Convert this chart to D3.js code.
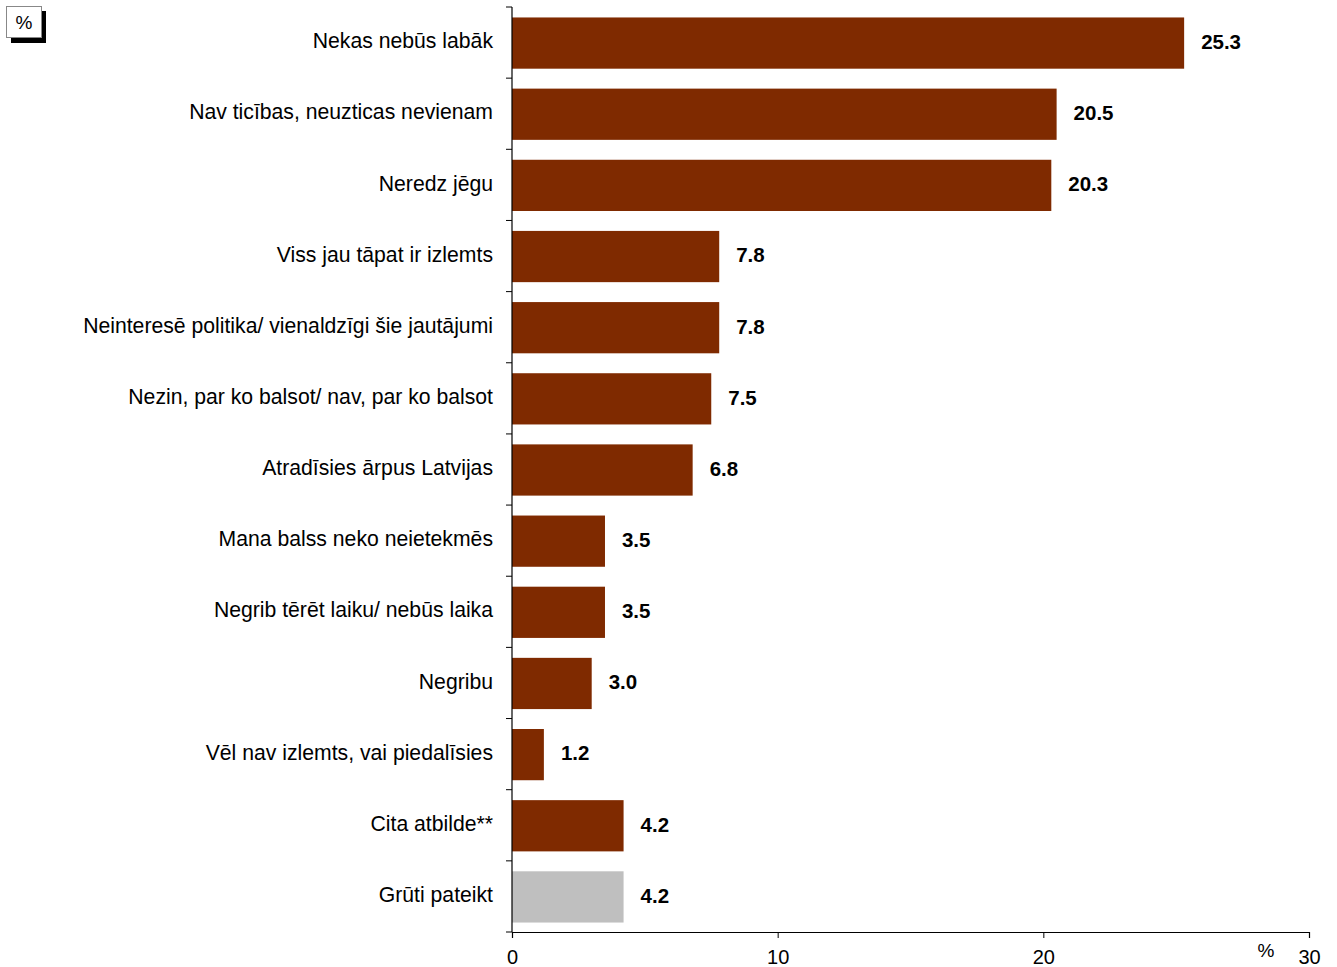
<!DOCTYPE html>
<html><head><meta charset="utf-8">
<script src="https://cdn.jsdelivr.net/npm/d3@7"></script>
<style>body{margin:0;background:#fff;} text{font-family:Arial,"Liberation Sans",sans-serif;}</style>
</head><body>
<svg id="c" width="1337" height="967"></svg>
<script>
const categories = ["Nekas nebūs labāk","Nav ticības, neuzticas nevienam","Neredz jēgu","Viss jau tāpat ir izlemts","Neinteresē politika/ vienaldzīgi šie jautājumi","Nezin, par ko balsot/ nav, par ko balsot","Atradīsies ārpus Latvijas","Mana balss neko neietekmēs","Negrib tērēt laiku/ nebūs laika","Negribu","Vēl nav izlemts, vai piedalīsies","Cita atbilde**","Grūti pateikt"];
const values = [25.3,20.5,20.3,7.8,7.8,7.5,6.8,3.5,3.5,3.0,1.2,4.2,4.2];
const barColors = ["#7f2a00","#7f2a00","#7f2a00","#7f2a00","#7f2a00","#7f2a00","#7f2a00","#7f2a00","#7f2a00","#7f2a00","#7f2a00","#7f2a00","#bfbfbf"];
const xTicks = [0,10,20,30];

const svg = d3.select("#c");
const x = d3.scaleLinear().domain([0,30]).range([512,1309]);
const y = d3.scaleBand().domain(categories).range([7,932]).paddingInner(0.28).paddingOuter(0.14);

svg.selectAll("rect.bar").data(values).enter().append("rect")
  .attr("x", x(0)).attr("y",(d,i)=>y(categories[i])+0.5)
  .attr("width", d=>x(d)-x(0)).attr("height", y.bandwidth())
  .attr("fill",(d,i)=>barColors[i]);

svg.selectAll("text.val").data(values).enter().append("text")
  .attr("x", d=>x(d)+17).attr("y",(d,i)=>y(categories[i])+y.bandwidth()/2-1)
  .attr("dy","0.36em").attr("font-size",20.5).attr("font-weight","bold")
  .text(d=>d.toFixed(1));

svg.selectAll("text.cat").data(categories).enter().append("text")
  .attr("x", 493).attr("y", d=>y(d)+y.bandwidth()/2-2)
  .attr("dy","0.36em").attr("text-anchor","end").attr("font-size",21.2)
  .text(d=>d);

const step = (932-7)/categories.length;
const bounds = d3.range(categories.length+1).map(i=>7+i*step);
svg.append("line").attr("x1",512).attr("x2",512).attr("y1",7).attr("y2",932).attr("stroke","#000").attr("stroke-width",1.2);
svg.selectAll("line.yt").data(bounds).enter().append("line")
  .attr("x1",506).attr("x2",512).attr("y1",d=>d).attr("y2",d=>d).attr("stroke","#000");

const xa = svg.append("g").attr("transform","translate(0,932)")
  .call(d3.axisBottom(x).tickValues(xTicks).tickSize(6).tickFormat(d3.format("d")));
xa.select(".domain").attr("stroke","#000").attr("stroke-width",1.2);
xa.selectAll("text").attr("font-size",20).attr("font-family","Arial, 'Liberation Sans', sans-serif").attr("fill","#000").attr("dy","1.15em");

svg.append("text").attr("x",1266).attr("y",957).attr("text-anchor","middle").attr("font-size",19).text("%");

svg.append("rect").attr("x",11).attr("y",11).attr("width",35).attr("height",32).attr("fill","#000");
svg.append("rect").attr("x",6.5).attr("y",6.5).attr("width",35).attr("height",31).attr("fill","#fff").attr("stroke","#888");
svg.append("text").attr("x",24).attr("y",22).attr("dy","0.36em").attr("text-anchor","middle").attr("font-size",19).text("%");
</script>
</body></html>
